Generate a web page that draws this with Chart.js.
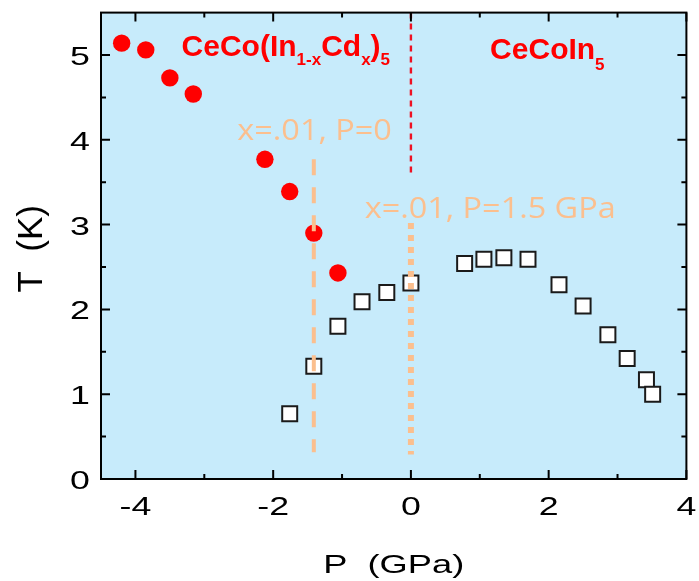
<!DOCTYPE html>
<html>
<head>
<meta charset="utf-8">
<script src="https://cdn.jsdelivr.net/npm/chart.js@4"></script>
<style>
  html, body { margin: 0; padding: 0; background: #fff; }
</style>
</head>
<body>
<canvas id="phaseChart" width="699" height="581"></canvas>
<script>
// Cd-doped sample, Tc plotted at its effective pressure
const dopedP = [-4.20, -3.85, -3.50, -3.16, -2.12, -1.76, -1.41, -1.06];
const dopedT = [5.14, 5.06, 4.73, 4.54, 3.77, 3.39, 2.90, 2.43];

// pure CeCoIn5 under pressure
const pureP = [-1.76, -1.41, -1.06, -0.71, -0.35, 0.00, 0.78, 1.06, 1.35, 1.70, 2.15, 2.50, 2.86, 3.14, 3.42, 3.51];
const pureT = [0.77, 1.33, 1.80, 2.09, 2.20, 2.31, 2.54, 2.59, 2.61, 2.59, 2.29, 2.04, 1.70, 1.42, 1.17, 1.00];

// guide lines (x=.01 at P=0, x=.01 at 1.5 GPa, boundary at P=0)
const dashP = [-1.41, -1.41];
const dashT = [3.77, 0.315];
const dotP = [0, 0];
const dotT = [3.02, 0.29];
const splitP = [0, 0];
const splitT = [5.5, 3.61];

// axis ticks
const xTicks = [-4, -2, 0, 2, 4];
const xMinor = [-3, -1, 1, 3];
const yTicks = [0, 1, 2, 3, 4, 5];
const yMinor = [0.5, 1.5, 2.5, 3.5, 4.5];

const toPts = (xs, ys) => xs.map((x, i) => ({ x: x, y: ys[i] }));

const ORANGE = '#fbbf8e';
const RED = '#ff0000';

// draw text stretched horizontally
function wideText(ctx, txt, x, y, sx) {
  ctx.save();
  ctx.translate(x, y);
  ctx.scale(sx, 1);
  ctx.fillText(txt, 0, 0);
  ctx.restore();
}

// formula with subscripts: parts = [[text, isSub], ...]
function formula(ctx, parts, x, y, subDrop) {
  let cx = x;
  ctx.textAlign = 'left';
  ctx.textBaseline = 'alphabetic';
  parts.forEach(([t, sub]) => {
    ctx.font = sub ? 'bold 17px "Liberation Sans"' : 'bold 30px "Liberation Sans"';
    ctx.fillText(t, cx, sub ? y + subDrop : y);
    cx += ctx.measureText(t).width;
  });
}

const framePlugin = {
  id: 'frame',
  beforeDatasetsDraw(chart) {
    const { ctx, chartArea: a } = chart;
    ctx.save();
    ctx.fillStyle = '#c7ebfb';
    ctx.fillRect(a.left, a.top, a.width, a.height);
    ctx.restore();
  },
  afterDraw(chart) {
    const { ctx, chartArea: a } = chart;
    const xs = chart.scales.x, ys = chart.scales.y;
    ctx.save();

    // inward ticks on all four sides
    ctx.strokeStyle = '#000';
    ctx.lineWidth = 2;
    ctx.beginPath();
    const xt = (vals, len) => vals.forEach(v => {
      const px = xs.getPixelForValue(v);
      ctx.moveTo(px, a.bottom); ctx.lineTo(px, a.bottom - len);
      ctx.moveTo(px, a.top); ctx.lineTo(px, a.top + len);
    });
    const yt = (vals, len) => vals.forEach(v => {
      const py = ys.getPixelForValue(v);
      ctx.moveTo(a.left, py); ctx.lineTo(a.left + len, py);
      ctx.moveTo(a.right, py); ctx.lineTo(a.right - len, py);
    });
    xt(xTicks, 9); xt(xMinor, 5);
    yt(yTicks, 9); yt(yMinor, 5);
    ctx.stroke();
    ctx.strokeRect(a.left, a.top, a.width, a.height);

    // tick labels
    ctx.fillStyle = '#000';
    ctx.font = '25px "Liberation Sans"';
    ctx.textAlign = 'right';
    ctx.textBaseline = 'alphabetic';
    yTicks.forEach(v => wideText(ctx, String(v), a.left - 11, ys.getPixelForValue(v) + 10, 1.43));
    ctx.textAlign = 'center';
    xTicks.forEach(v => wideText(ctx, String(v), xs.getPixelForValue(v), a.bottom + 36, 1.43));

    // axis titles
    wideText(ctx, 'P  (GPa)', (a.left + a.right) / 2, a.bottom + 94, 1.45);
    ctx.save();
    ctx.font = '35px "Liberation Sans"';
    ctx.translate(42, (a.top + a.bottom) / 2 + 3);
    ctx.rotate(-Math.PI / 2);
    ctx.fillText('T  (K)', 0, 0);
    ctx.restore();

    // sample labels
    ctx.fillStyle = RED;
    formula(ctx, [['CeCo(In', false], ['1-x', true], ['Cd', false], ['x', true], [')', false], ['5', true]],
      xs.getPixelForValue(-3.33), ys.getPixelForValue(4.99), 9.5);
    formula(ctx, [['CeCoIn', false], ['5', true]],
      xs.getPixelForValue(1.15), ys.getPixelForValue(4.95), 11);

    ctx.fillStyle = ORANGE;
    ctx.font = '30px "Open Sans"';
    ctx.textAlign = 'left';
    wideText(ctx, 'x=.01, P=0', xs.getPixelForValue(-2.52), ys.getPixelForValue(4.0), 1.08);
    wideText(ctx, 'x=.01, P=1.5 GPa', xs.getPixelForValue(-0.67), ys.getPixelForValue(3.08), 1.08);

    ctx.restore();
  }
};

new Chart(document.getElementById('phaseChart'), {
  type: 'scatter',
  data: {
    datasets: [
      {
        data: toPts(dashP, dashT),
        showLine: true,
        borderColor: ORANGE,
        borderWidth: 4,
        borderDash: [16, 12],
        pointRadius: 0,
        order: 0
      },
      {
        data: toPts(dotP, dotT),
        showLine: true,
        borderColor: ORANGE,
        borderWidth: 6,
        borderDash: [6, 6],
        pointRadius: 0,
        order: 0
      },
      {
        data: toPts(splitP, splitT),
        showLine: true,
        borderColor: '#ee1122',
        borderWidth: 2.4,
        borderDash: [6, 5],
        pointRadius: 0,
        order: 0
      },
      {
        data: toPts(pureP, pureT),
        pointStyle: 'rect',
        pointRadius: 10.6,
        pointHoverRadius: 10.6,
        backgroundColor: '#fff',
        borderColor: '#1a1a1a',
        borderWidth: 2,
        order: 1
      },
      {
        data: toPts(dopedP, dopedT),
        pointStyle: 'circle',
        pointRadius: 8.7,
        pointHoverRadius: 8.7,
        backgroundColor: RED,
        borderWidth: 0,
        order: 1
      }
    ]
  },
  options: {
    responsive: false,
    animation: false,
    layout: { padding: { left: 101, right: 10, top: 8, bottom: 102 } },
    plugins: { legend: { display: false }, tooltip: { enabled: false } },
    scales: {
      x: { type: 'linear', min: -4.5, max: 4, display: false },
      y: { type: 'linear', min: 0, max: 5.5, display: false }
    }
  },
  plugins: [framePlugin]
});
</script>
</body>
</html>
